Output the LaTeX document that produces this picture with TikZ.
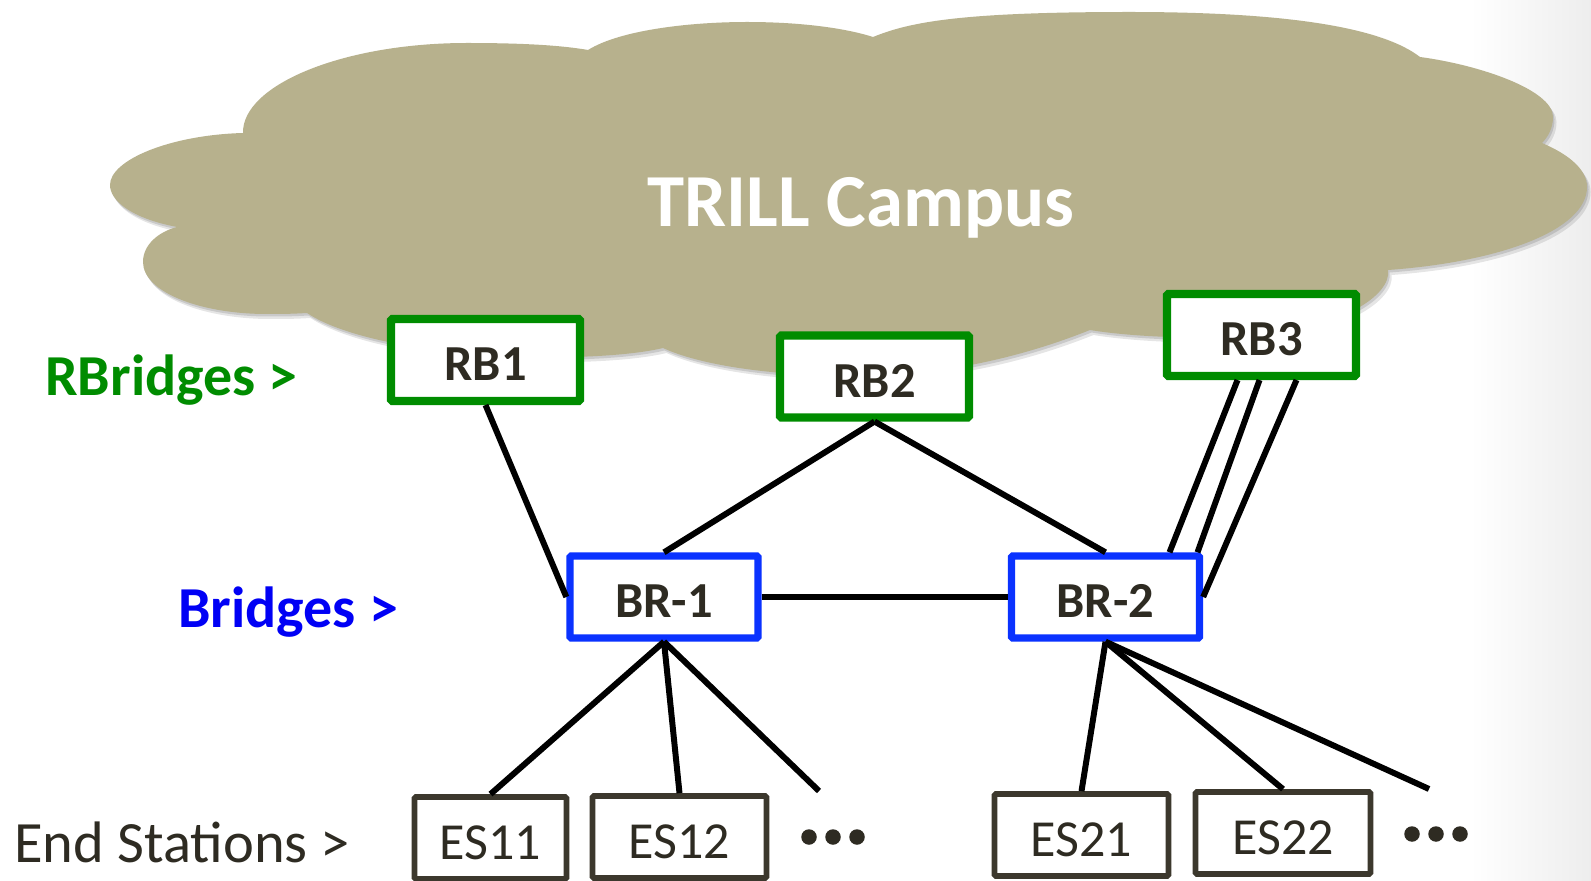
\documentclass[tikz,border=0pt]{standalone}
\usepackage{fontspec}
\setmainfont{Carlito}
\usetikzlibrary{calc}
\definecolor{cloudc}{RGB}{183,177,141}
\definecolor{rbgreen}{RGB}{0,140,0}
\definecolor{brblue}{RGB}{10,50,255}
\definecolor{lblblue}{RGB}{0,0,245}
\definecolor{txtdark}{RGB}{46,43,34}
\definecolor{esgray}{RGB}{60,56,45}
\def\cloudpath{(177,227) .. controls (130,218) and (110,200) .. (110,185)
 .. controls (110,160) and (170,135) .. (243,133)
 .. controls (242,85) and (343,43) .. (467,43)
 .. controls (530,43) and (565,46) .. (588,50)
 .. controls (620,30) and (690,22) .. (747,22)
 .. controls (800,22) and (845,28) .. (873,37)
 .. controls (910,22) and (960,12) .. (1130,12)
 .. controls (1300,12) and (1385,30) .. (1420,57)
 .. controls (1480,65) and (1553,90) .. (1553,117)
 .. controls (1553,128) and (1548,137) .. (1542,143)
 .. controls (1570,155) and (1587,170) .. (1587,187)
 .. controls (1587,230) and (1500,262) .. (1388,270)
 .. controls (1392,295) and (1340,330) .. (1250,336)
 .. controls (1180,340) and (1120,335) .. (1090,330)
 .. controls (1040,350) and (960,375) .. (860,376)
 .. controls (770,376) and (700,365) .. (663,348)
 .. controls (630,356) and (560,360) .. (490,355)
 .. controls (410,350) and (340,335) .. (307,313)
 .. controls (290,314) and (280,314) .. (267,314)
 .. controls (200,314) and (143,292) .. (143,262)
 .. controls (143,245) and (158,232) .. (177,227) -- cycle}
\tikzset{
  anybox/.style={rectangle, fill=white, inner sep=0pt, text height=0.84cm, text depth=0pt, text=txtdark, rounded corners=0.8pt},
  rbbox/.style={anybox, draw=rbgreen, line width=4.6pt, minimum width=3.78cm, minimum height=1.64cm, font=\fontsize{28.7}{30}\selectfont\bfseries},
  brbox/.style={anybox, draw=brblue, line width=4.2pt, minimum width=3.76cm, minimum height=1.64cm, font=\fontsize{28.7}{30}\selectfont\bfseries},
  esbox/.style={anybox, draw=esgray, line width=3.3pt, minimum height=1.64cm, font=\fontsize{29.6}{31}\selectfont},
  conn/.style={draw=black, line width=3.4pt},
  lbl/.style={anchor=base west, inner sep=0pt},
}
\begin{document}
\begin{tikzpicture}[x=0.02cm, y=-0.02cm]
\useasboundingbox (0,0) rectangle (1591,881);
\fill[white] (0,0) rectangle (1591,881);
\shade[left color=white, right color=black!7] (1470,0) rectangle (1591,881);
% cloud shadow
\begin{scope}[shift={(1.5,2.5)}]
  \fill[black, opacity=0.12] \cloudpath;
\end{scope}
\begin{scope}[shift={(3.5,5)}]
  \fill[black, opacity=0.10] \cloudpath;
\end{scope}
\fill[cloudc] \cloudpath;
\node[anchor=base west, inner sep=0pt, text=white, font=\fontsize{42.6}{46}\selectfont\bfseries] (title) at (647,227) {TRILL Campus};
% labels
\node[lbl, text=rbgreen, font=\fontsize{33}{36}\selectfont\bfseries] (lblRB) at (45,396) {RBridges >};
\node[lbl, text=lblblue, font=\fontsize{33}{36}\selectfont\bfseries] (lblBR) at (178,627) {Bridges >};
\node[lbl, text=txtdark, font=\fontsize{33.3}{36}\selectfont] (lblES) at (14,862) {End Stations >};
% boxes
\node[rbbox] (RB1) at (485.5,360) {RB1};
\node[rbbox] (RB2) at (874.5,376.5) {RB2};
\node[rbbox] (RB3) at (1261.5,335) {RB3};
\node[brbox] (BR1) at (664,597) {BR-1};
\node[brbox] (BR2) at (1105.5,597) {BR-2};
\node[esbox, minimum width=3.04cm] (ES11) at (490.5,838) {ES11};
\node[esbox, minimum width=3.48cm] (ES12) at (679.5,837) {ES12};
\node[esbox, minimum width=3.48cm] (ES21) at (1081.5,835) {ES21};
\node[esbox, minimum width=3.5cm] (ES22) at (1283,833) {ES22};
\coordinate (e1) at (819,791);
\coordinate (e2) at (1429,789);
% dots
\foreach \x in {809,833,857} \fill[txtdark] (\x,837) circle[radius=0.155cm];
\foreach \x in {1412,1436,1460} \fill[txtdark] (\x,834) circle[radius=0.155cm];
% connectors
\draw[conn] (RB1.south) -- (BR1.west);
\draw[conn] (RB2.south) -- (BR1.north);
\draw[conn] (RB2.south) -- (BR2.north);
\draw[conn] ($(RB3.south)+(-24,0)$) -- ($(BR2.north)+(64,0)$);
\draw[conn] ($(RB3.south)+(-2,0)$) -- ($(BR2.north)+(92,0)$);
\draw[conn] ($(RB3.south)+(35,0)$) -- (BR2.east);
\draw[conn] (BR1.east) -- (BR2.west);
\draw[conn] (BR1.south) -- (ES11.north);
\draw[conn] (BR1.south) -- (ES12.north);
\draw[conn] (BR1.south) -- (e1);
\draw[conn] (BR2.south) -- (ES21.north);
\draw[conn] (BR2.south) -- (ES22.north);
\draw[conn] (BR2.south) -- (e2);
\end{tikzpicture}
\end{document}
